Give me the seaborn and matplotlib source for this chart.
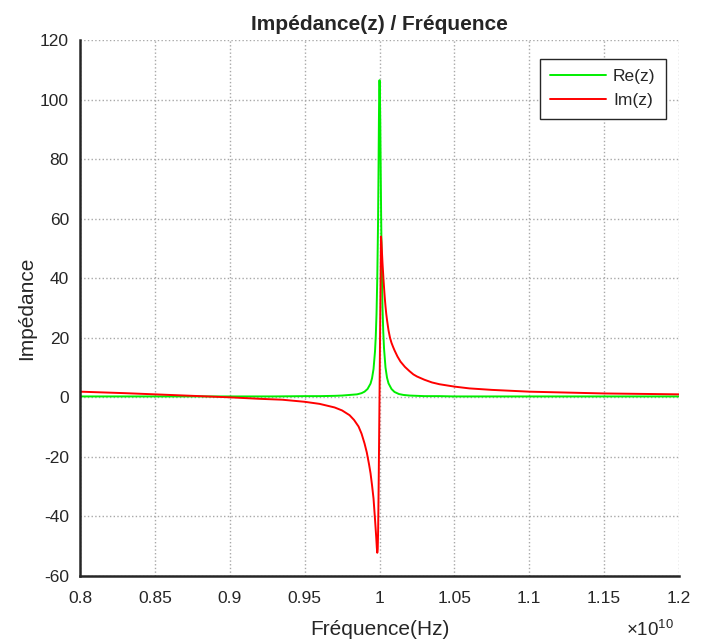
import numpy as np
import pandas as pd
import matplotlib
matplotlib.use('Agg')
import matplotlib.pyplot as plt
import seaborn as sns

# frequencies in units of 1e10 Hz
freq_re = [0.80, 0.85, 0.90, 0.93, 0.95, 0.96, 0.97, 0.975, 0.98, 0.985, 0.988, 0.990,
           0.992, 0.994, 0.995, 0.996, 0.997, 0.9975, 0.998, 0.9985, 0.999, 0.9993,
           0.9996, 0.9998, 1.0000, 1.0002, 1.0005, 1.0008, 1.0011, 1.0015, 1.0020,
           1.0025, 1.003, 1.004, 1.005, 1.006, 1.008, 1.010, 1.013, 1.016, 1.02,
           1.025, 1.03, 1.04, 1.05, 1.07, 1.10, 1.15, 1.20]
re_z = [0.3, 0.3, 0.3, 0.3, 0.4, 0.4, 0.5, 0.6, 0.8, 1.0, 1.4, 1.9,
        2.8, 4.6, 6.4, 9.5, 15.5, 20.5, 28, 40, 58, 74,
        93, 103, 106.5, 104, 93, 76, 60, 44, 30,
        22, 16.5, 10, 6.6, 4.7, 2.8, 1.8, 1.1, 0.8, 0.6,
        0.5, 0.4, 0.4, 0.3, 0.3, 0.3, 0.3, 0.3]

freq_im = [0.80, 0.83, 0.85, 0.87, 0.90, 0.92, 0.935, 0.95, 0.96, 0.965, 0.97, 0.975,
           0.98, 0.983, 0.986, 0.988, 0.990, 0.9915, 0.993, 0.994, 0.995, 0.996,
           0.997, 0.9978, 0.9982, 0.9985, 0.9988, 0.9991, 0.9995, 1.0000, 1.0005,
           1.0010, 1.0013, 1.0016, 1.0020, 1.0026, 1.0030, 1.0035, 1.0040, 1.0045,
           1.0050, 1.0060, 1.0070, 1.0080, 1.0090, 1.0100, 1.0120, 1.0140, 1.0170,
           1.0200, 1.0226, 1.0250, 1.0300, 1.0350, 1.0400, 1.0500, 1.0600, 1.0750,
           1.1000, 1.1250, 1.1500, 1.1750, 1.2000]
im_z = [1.9, 1.4, 1.0, 0.6, 0.0, -0.5, -0.8, -1.5, -2.2, -2.8, -3.4, -4.4,
        -6.0, -7.6, -9.8, -12.2, -15.5, -18.5, -22.5, -25.5, -29.5, -34,
        -41, -47, -50.5, -52.2, -51, -44, -26, 0, 28,
        54, 52, 49, 45, 40, 37, 33.5, 30.5, 28,
        26, 22.5, 20, 18.3, 17, 15.8, 13.7, 12.0, 10.2,
        8.8, 7.7, 7.0, 5.9, 5.0, 4.4, 3.6, 3.0, 2.5,
        1.9, 1.6, 1.3, 1.15, 1.0]

xticks = [0.8, 0.85, 0.9, 0.95, 1.0, 1.05, 1.1, 1.15, 1.2]
xtick_labels = ['0.8', '0.85', '0.9', '0.95', '1', '1.05', '1.1', '1.15', '1.2']
yticks = [-60, -40, -20, 0, 20, 40, 60, 80, 100, 120]

sns.set_style('white')
plt.rcParams['font.family'] = ['Liberation Sans', 'DejaVu Sans']
plt.rcParams['mathtext.fontset'] = 'custom'
plt.rcParams['mathtext.rm'] = 'Liberation Sans'
plt.rcParams['axes.unicode_minus'] = False

df_re = pd.DataFrame({'f': freq_re, 'z': re_z})
df_im = pd.DataFrame({'f': freq_im, 'z': im_z})

fig = plt.figure(figsize=(7.07, 6.44), dpi=100)
ax = fig.add_axes([0.1132, 0.1056, 0.8472, 0.8323])

sns.lineplot(data=df_re, x='f', y='z', color='#00ee00', lw=1.4, label='Re(z)', ax=ax, estimator=None)
sns.lineplot(data=df_im, x='f', y='z', color='#ff0000', lw=1.4, label='Im(z)', ax=ax, estimator=None)

ax.set_xlim(0.8, 1.2)
ax.set_ylim(-60, 120)
ax.set_xticks(xticks)
ax.set_xticklabels(xtick_labels)
ax.set_yticks(yticks)
ax.grid(True, linestyle=':', color='#a8a8a8', linewidth=1)
ax.set_axisbelow(True)

for s in ['top', 'right']:
    ax.spines[s].set_visible(False)
for s in ['left', 'bottom']:
    ax.spines[s].set_linewidth(1.8)
    ax.spines[s].set_color('#262626')
ax.tick_params(direction='in', length=6, width=1, color='#262626', labelcolor='#262626',
               labelsize=12.5)
ax.tick_params(axis='x', pad=11)
ax.tick_params(axis='y', pad=8)

ax.set_title('Impédance(z) / Fréquence', fontsize=15, fontweight='bold', pad=7)
ax.set_xlabel('Fréquence(Hz)', fontsize=15, labelpad=10, color='#262626')
ax.set_ylabel('Impédance', fontsize=15, labelpad=3, color='#262626')

leg = ax.legend(loc='upper right', bbox_to_anchor=(0.978, 0.965), borderaxespad=0,
                frameon=True, fancybox=False, framealpha=1, edgecolor='#262626',
                fontsize=12.5, handlelength=3.2, borderpad=0.6, labelspacing=0.5,
                handletextpad=0.4)
leg.get_frame().set_linewidth(1)

fig.text(0.885, 0.012, r'$\mathregular{\times10^{10}}$', fontsize=13.5, color='#262626')

fig.savefig('out.png', dpi=100)
